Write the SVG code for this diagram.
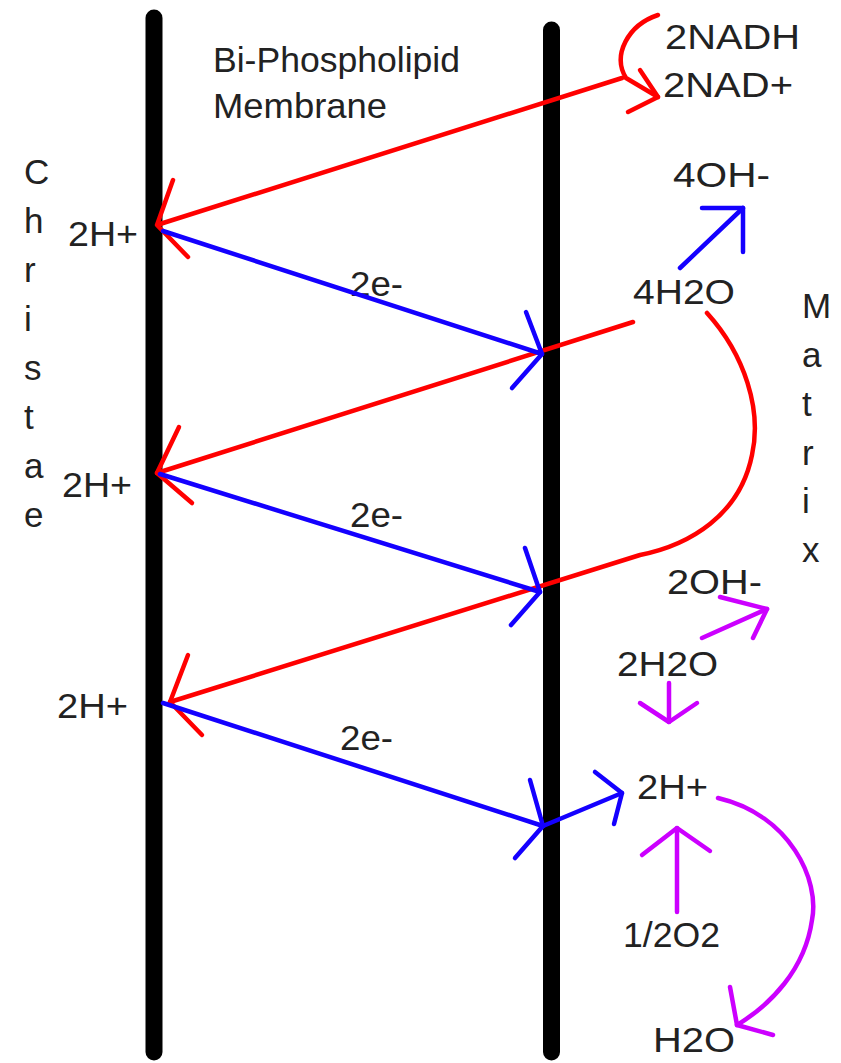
<svg xmlns="http://www.w3.org/2000/svg" width="841" height="1063" viewBox="0 0 841 1063">
<style>
text{font-family:"Liberation Sans",Arial,sans-serif;font-size:35px;fill:#222}
.mem{stroke:#000;stroke-width:17;stroke-linecap:round;fill:none}
.r{stroke:#ff0000;stroke-width:4.5;fill:none;stroke-linecap:round;stroke-linejoin:round}
.b{stroke:#1400ff;stroke-width:4.5;fill:none;stroke-linecap:round;stroke-linejoin:round}
.p{stroke:#cc00ff;stroke-width:4.5;fill:none;stroke-linecap:round;stroke-linejoin:round}
</style>
<rect width="841" height="1063" fill="#fff"/>
<g id="membranes">
<line class="mem" x1="154" y1="18" x2="154" y2="1052"/>
<line class="mem" x1="551.5" y1="30" x2="551.5" y2="1052"/>
</g>
<g id="membrane-label">
<text x="213" y="72" textLength="247" lengthAdjust="spacingAndGlyphs">Bi-Phospholipid</text>
<text x="213" y="118" textLength="174" lengthAdjust="spacingAndGlyphs">Membrane</text>
</g>
<g id="christae-label">
<text x="24" y="184">C</text>
<text x="24" y="233">h</text>
<text x="24" y="282">r</text>
<text x="24" y="331">i</text>
<text x="24" y="380">s</text>
<text x="24" y="429">t</text>
<text x="24" y="478">a</text>
<text x="24" y="527">e</text>
</g>
<g id="matrix-label">
<text x="802" y="318">M</text>
<text x="802" y="367">a</text>
<text x="802" y="416">t</text>
<text x="802" y="465">r</text>
<text x="802" y="513">i</text>
<text x="802" y="562">x</text>
</g>
<g id="h-left-1"><text x="68" y="246" textLength="70" lengthAdjust="spacingAndGlyphs">2H+</text></g>
<g id="h-left-2"><text x="62" y="497" textLength="70" lengthAdjust="spacingAndGlyphs">2H+</text></g>
<g id="h-left-3"><text x="57" y="718" textLength="71" lengthAdjust="spacingAndGlyphs">2H+</text></g>
<g id="e-1"><text x="350" y="296" textLength="53" lengthAdjust="spacingAndGlyphs">2e-</text></g>
<g id="e-2"><text x="350" y="527" textLength="53" lengthAdjust="spacingAndGlyphs">2e-</text></g>
<g id="e-3"><text x="340" y="750" textLength="53" lengthAdjust="spacingAndGlyphs">2e-</text></g>
<g id="nadh"><text x="665" y="49" textLength="135" lengthAdjust="spacingAndGlyphs">2NADH</text></g>
<g id="nad"><text x="663" y="97" textLength="130" lengthAdjust="spacingAndGlyphs">2NAD+</text></g>
<g id="oh4"><text x="673" y="187" textLength="97" lengthAdjust="spacingAndGlyphs">4OH-</text></g>
<g id="h2o4"><text x="633" y="304" textLength="102" lengthAdjust="spacingAndGlyphs">4H2O</text></g>
<g id="oh2"><text x="667" y="594" textLength="95" lengthAdjust="spacingAndGlyphs">2OH-</text></g>
<g id="h2o2"><text x="617" y="676" textLength="101" lengthAdjust="spacingAndGlyphs">2H2O</text></g>
<g id="h-right"><text x="637" y="799" textLength="71" lengthAdjust="spacingAndGlyphs">2H+</text></g>
<g id="o2"><text x="623" y="947" textLength="97" lengthAdjust="spacingAndGlyphs">1/2O2</text></g>
<g id="h2o"><text x="653" y="1052" textLength="82" lengthAdjust="spacingAndGlyphs">H2O</text></g>
<g id="connectors">
<path class="r" d="M658,15 C628,25 612,55 626,78 L658,97"/>
<path class="r" d="M640,70 L658,97 L628,112"/>
<path class="r" d="M160,224 L622,78"/>
<path class="r" d="M173,180 L157,225 L188,257"/>
<path class="r" d="M633,322 L157,473"/>
<path class="r" d="M179,427 L157,473 L192,503"/>
<path class="r" d="M707,313 C745,355 762,410 752,455 C740,515 690,545 640,555 L170,702"/>
<path class="r" d="M188,655 L170,702 L202,735"/>
<path class="b" d="M163,231 L542,354"/>
<path class="b" d="M526,312 L542,354 L512,388"/>
<path class="b" d="M160,474 L540,592"/>
<path class="b" d="M525,548 L540,592 L511,625"/>
<path class="b" d="M163,703 L543,826"/>
<path class="b" d="M530,780 L543,826 L515,858"/>
<path class="b" d="M543,826 L622,793"/>
<path class="b" d="M595,772 L622,793 L614,824"/>
<path class="b" d="M680,268 L743,208"/>
<path class="b" d="M702,208 L743,208 L743,252"/>
<path class="p" d="M702,638 L767,609"/>
<path class="p" d="M720,597 L767,609 L753,638"/>
<path class="p" d="M669,683 L669,722"/>
<path class="p" d="M640,703 L669,722 L697,703"/>
<path class="p" d="M677,912 L677,828"/>
<path class="p" d="M642,855 L677,828 L710,851"/>
<path class="p" d="M718,798 C790,815 820,880 812,920 C805,970 770,1005 737,1025"/>
<path class="p" d="M730,987 L737,1025 L773,1035"/>
</g>
</svg>
